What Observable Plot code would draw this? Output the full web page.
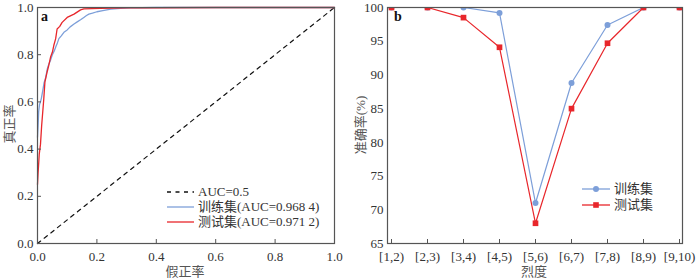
<!DOCTYPE html>
<html><head><meta charset="utf-8">
<script src="https://cdn.jsdelivr.net/npm/d3@7"></script>
<script src="https://cdn.jsdelivr.net/npm/@observablehq/plot@0.6"></script>
<style>
body{margin:0;background:#fff;}
#wrap{position:relative;width:700px;height:278px;display:flex;font-family:"Liberation Serif","Noto Sans CJK SC",serif;color:#333;}
.t{position:absolute;font-size:13px;white-space:nowrap;line-height:1;}
.lab{position:absolute;font-size:13px;color:#555;white-space:nowrap;}
</style></head>
<body><div id="wrap"></div>
<script>
// ---- Panel a: ROC curves ----
const trainFpr = [0, 0.002, 0.004, 0.007, 0.01, 0.013, 0.018, 0.022, 0.027, 0.033, 0.038, 0.044, 0.05, 0.056, 0.062, 0.067, 0.072, 0.08, 0.089, 0.1, 0.11, 0.123, 0.135, 0.145, 0.156, 0.165, 0.173, 0.185, 0.2, 0.22, 0.247, 0.28, 0.314, 0.35, 0.4, 0.5, 1.0];
const trainTpr = [0.45, 0.5, 0.56, 0.59, 0.6, 0.615, 0.65, 0.68, 0.70, 0.74, 0.76, 0.777, 0.80, 0.815, 0.835, 0.85, 0.868, 0.88, 0.895, 0.905, 0.918, 0.93, 0.94, 0.948, 0.958, 0.966, 0.972, 0.976, 0.982, 0.987, 0.993, 0.996, 0.998, 0.999, 1.0, 1.0, 1.0];
const testFpr = [0, 0.002, 0.006, 0.01, 0.014, 0.021, 0.025, 0.033, 0.038, 0.044, 0.05, 0.055, 0.061, 0.066, 0.075, 0.083, 0.10, 0.123, 0.145, 0.156, 0.21, 0.3, 0.4, 0.6, 1.0];
const testTpr = [0.25, 0.30, 0.38, 0.42, 0.50, 0.61, 0.685, 0.73, 0.755, 0.79, 0.81, 0.84, 0.867, 0.909, 0.92, 0.937, 0.958, 0.972, 0.99, 0.994, 0.996, 0.998, 0.999, 1.0, 1.0];
const chanceFpr = [0, 1];
const chanceTpr = [0, 1];
const rocTicks = [0, 0.2, 0.4, 0.6, 0.8, 1.0];

// ---- Panel b: accuracy by intensity ----
const intensity = ["[1,2)", "[2,3)", "[3,4)", "[4,5)", "[5,6)", "[6,7)", "[7,8)", "[8,9)", "[9,10)"];
const trainAcc = [100, 100, 100, 99.2, 71, 88.8, 97.4, 100, 100];
const testAcc = [100, 100, 98.5, 94.1, 68, 85, 94.7, 100, 100];
const accTicks = [65, 70, 75, 80, 85, 90, 95, 100];

const blue = "#7d9fd9", red = "#e8262b", frameC = "#555";
const FONT = '"Liberation Serif","Noto Sans CJK SC",serif';
const zip = (a, b) => a.map((v, i) => ({x: v, y: b[i]}));
const style = {fontFamily: FONT, fontSize: "13px", color: "#333", background: "white", overflow: "visible"};

const rocA = Plot.plot({
  width: 350, height: 278, marginLeft: 37, marginRight: 16, marginTop: 7, marginBottom: 35,
  style,
  x: {domain: [0, 1]}, y: {domain: [0, 1]},
  marks: [
    Plot.line(zip(chanceFpr, chanceTpr), {x: "x", y: "y", stroke: "#111", strokeWidth: 1.2, strokeDasharray: "4,4.5"}),
    Plot.line(zip(trainFpr, trainTpr), {x: "x", y: "y", stroke: blue, strokeWidth: 1.3}),
    Plot.line(zip(testFpr, testTpr), {x: "x", y: "y", stroke: red, strokeWidth: 1.3}),
    Plot.ruleY(rocTicks, {y: d => d, x1: 0, x2: 0, insetRight: -4, stroke: frameC}),
    Plot.ruleX(rocTicks, {x: d => d, y1: 0, y2: 0, insetBottom: 4, stroke: frameC}),
    Plot.axisY(rocTicks, {tickSize: 0, tickPadding: 4, tickFormat: d3.format(".1f"), label: null, fill: "#333", fontFamily: FONT, fontSize: 13}),
    Plot.axisX(rocTicks, {tickSize: 0, tickPadding: 8, tickFormat: d3.format(".1f"), label: null, fill: "#333", fontFamily: FONT, fontSize: 13}),
    Plot.frame({stroke: frameC, strokeWidth: 1.2})
  ]
});

const accB = Plot.plot({
  width: 350, height: 278, marginLeft: 37, marginRight: 18, marginTop: 7, marginBottom: 35,
  style,
  x: {type: "point", domain: intensity, padding: 0}, y: {domain: [65, 100]},
  marks: [
    Plot.line(intensity, {x: d => d, y: (d, i) => trainAcc[i], stroke: blue, strokeWidth: 1.2, clip: true}),
    Plot.dot(intensity, {x: d => d, y: (d, i) => trainAcc[i], fill: blue, r: 3, clip: true}),
    Plot.line(intensity, {x: d => d, y: (d, i) => testAcc[i], stroke: red, strokeWidth: 1.2, clip: true}),
    Plot.dot(intensity, {x: d => d, y: (d, i) => testAcc[i], fill: red, symbol: "square", r: 3.2, clip: true}),
    Plot.ruleY(accTicks, {y: d => d, x1: intensity[0], x2: intensity[0], insetRight: -4, stroke: frameC}),
    Plot.ruleX(intensity, {x: d => d, y1: 65, y2: 65, insetBottom: 4, stroke: frameC}),
    Plot.axisY(accTicks, {tickSize: 0, tickPadding: 4, label: null, fill: "#333", fontFamily: FONT, fontSize: 13}),
    Plot.axisX(intensity, {tickSize: 0, tickPadding: 8, label: null, fill: "#333", fontFamily: FONT, fontSize: 13}),
    Plot.frame({stroke: frameC, strokeWidth: 1.2})
  ]
});

const wrap = document.getElementById("wrap");
wrap.appendChild(rocA);
wrap.appendChild(accB);

function addText(html, left, top, cls, extra) {
  const d = document.createElement("div");
  d.className = cls; d.innerHTML = html;
  d.style.left = left + "px"; d.style.top = top + "px";
  if (extra) Object.assign(d.style, extra);
  wrap.appendChild(d);
  return d;
}
// panel letters
addText("a", 41, 10, "t", {fontWeight: "bold", fontSize: "14px", color: "#111"});
addText("b", 394, 10, "t", {fontWeight: "bold", fontSize: "14px", color: "#111"});
// axis titles
addText("假正率", 185, 261, "lab", {transform: "translateX(-50%)"});
addText("烈度", 534, 261, "lab", {transform: "translateX(-50%)"});
addText("真正率", 0, 124, "lab", {transform: "translate(-50%,-50%) rotate(-90deg)", left: "8px"});
addText("准确率(%)", 0, 125, "lab", {transform: "translate(-50%,-50%) rotate(-90deg)", left: "359px"});

// legends
function legendRow(x1, x2, y, color, dash, marker, label) {
  const s = document.createElementNS("http://www.w3.org/2000/svg", "svg");
  s.setAttribute("width", x2 - x1 + 2); s.setAttribute("height", 10);
  s.style.position = "absolute"; s.style.left = x1 + "px"; s.style.top = (y - 5) + "px";
  const w = x2 - x1;
  s.innerHTML = `<line x1="0" x2="${w}" y1="5" y2="5" stroke="${color}" stroke-width="1.3" ${dash ? 'stroke-dasharray="4,4.5"' : ''}/>` +
    (marker === "circle" ? `<circle cx="${w/2}" cy="5" r="3" fill="${color}"/>` : marker === "square" ? `<rect x="${w/2-2.8}" y="2.2" width="5.6" height="5.6" fill="${color}"/>` : "");
  wrap.appendChild(s);
  addText(label, x2 + 4, y - 7, "t", {color: "#333"});
}
legendRow(167, 194, 192, "#111", true, null, "AUC=0.5");
legendRow(167, 194, 207, blue, false, null, "训练集(AUC=0.968 4)");
legendRow(167, 194, 222, red, false, null, "测试集(AUC=0.971 2)");
legendRow(582, 610, 189, blue, false, "circle", "训练集");
legendRow(582, 610, 205, red, false, "square", "测试集");
</script></body></html>
